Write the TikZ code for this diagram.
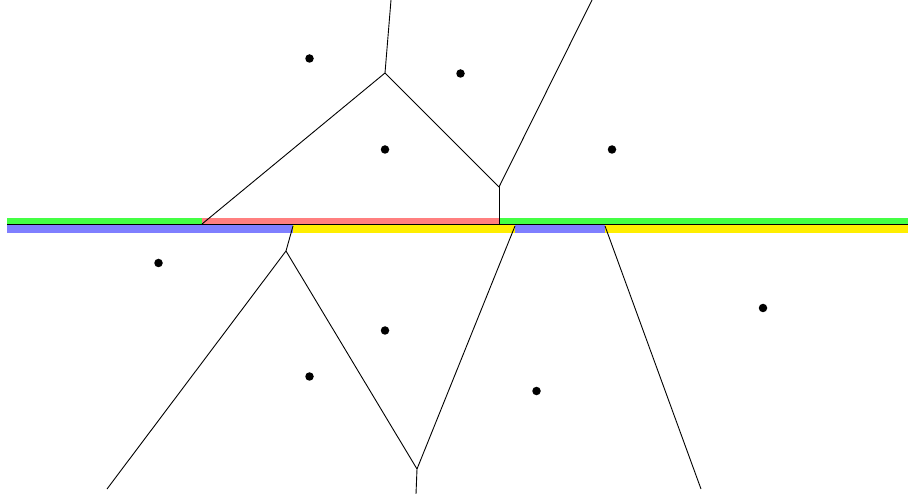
\documentclass[tikz,border=0pt]{standalone}
\definecolor{bgreen}{HTML}{44FF44}
\definecolor{bred}{HTML}{FF7F7F}
\definecolor{bblue}{HTML}{7F7FFF}
\definecolor{byellow}{HTML}{FFEE00}
\begin{document}
\begin{tikzpicture}[x=1pt,y=-1pt,
  site/.style={circle,fill=black,inner sep=0pt,minimum size=8.5pt},
  edge/.style={draw=black,line width=0.9pt},
  band/.style={line width=0pt}]
\useasboundingbox (0,0) rectangle (908,494);
\fill[white] (0,0) rectangle (908,494);
% bands
\fill[bgreen] (7,218) rectangle (202,225);
\fill[bred] (202,218) rectangle (499,225);
\fill[bgreen] (499,218) rectangle (908,225);
\fill[bblue] (7,225) rectangle (293,233);
\fill[byellow] (293,225) rectangle (515,233);
\fill[bblue] (515,225) rectangle (605,233);
\fill[byellow] (605,225) rectangle (908,233);
\coordinate (l0) at (7,225);
\coordinate (l1) at (908,225);
\draw[line width=1pt] (l0) -- (l1);
% vertices
\coordinate (t0) at (391,0);
\coordinate (v1) at (385,73);
\coordinate (a1) at (202,224);
\coordinate (v2) at (499,187);
\coordinate (a2) at (499,225);
\coordinate (t1) at (592,0);
\coordinate (b1) at (293,226);
\coordinate (v3) at (286,251);
\coordinate (e1) at (107,489);
\coordinate (v4) at (417,469);
\coordinate (e2) at (416,494);
\coordinate (b2) at (515,226);
\coordinate (b3) at (605,226);
\coordinate (e3) at (701,489);
\draw[edge] (t0) -- (v1);
\draw[edge] (v1) -- (a1);
\draw[edge] (v1) -- (v2);
\draw[edge] (v2) -- (a2);
\draw[edge] (v2) -- (t1);
\draw[edge] (b1) -- (v3);
\draw[edge] (v3) -- (e1);
\draw[edge] (v3) -- (v4);
\draw[edge] (v4) -- (e2);
\draw[edge] (b2) -- (v4);
\draw[edge] (b3) -- (e3);
% sites
\node[site] (s1) at (309.5,58.5) {};
\node[site] (s2) at (460.5,73.5) {};
\node[site] (s3) at (385,149.5) {};
\node[site] (s4) at (612,149.5) {};
\node[site] (s5) at (158.5,263) {};
\node[site] (s6) at (385,330.5) {};
\node[site] (s7) at (309.5,376.5) {};
\node[site] (s8) at (536.5,391) {};
\node[site] (s9) at (763,308) {};
\end{tikzpicture}
\end{document}
